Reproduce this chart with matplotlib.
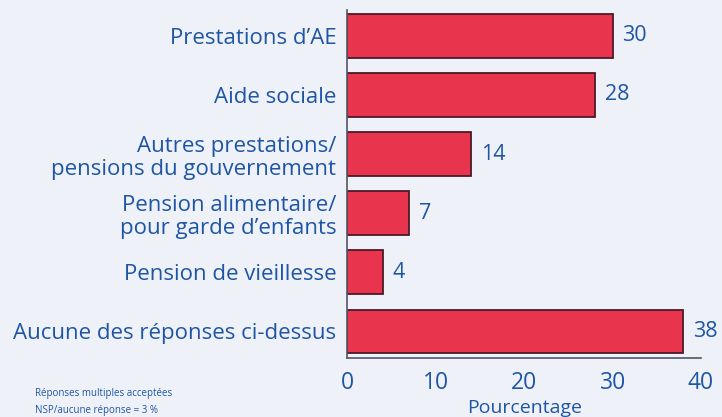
import matplotlib
matplotlib.use("Agg")
import matplotlib.pyplot as plt

# Sources de revenu (en %)
categories = [
    "Prestations d\u2019AE",
    "Aide sociale",
    "Autres prestations/\npensions du gouvernement",
    "Pension alimentaire/\npour garde d\u2019enfants",
    "Pension de vieillesse",
    "Aucune des r\u00e9ponses ci-dessus",
]
values = [30, 28, 14, 7, 4, 38]
xticks = [0, 10, 20, 30, 40]

bg = "#eef2f8"
blue = "#1f55a6"
red = "#e8344c"

plt.rcParams['font.family'] = ['Open Sans', 'DejaVu Sans']

fig = plt.figure(figsize=(7.22, 4.17), dpi=100, facecolor=bg)
ax = fig.add_axes([0.481, 0.141, 0.49, 0.835], facecolor=bg)

ypos = list(range(len(categories) - 1, -1, -1))
ax.barh(ypos, values, height=0.73, color=red, edgecolor="#4a1a2a", linewidth=1.3)

for y, v in zip(ypos, values):
    ax.text(v + 1.1, y, str(v), va="center", ha="left", color=blue, fontsize=15.5)

ax.set_yticks(ypos)
ax.set_yticklabels(categories, color=blue, fontsize=16, linespacing=1.15)
ax.set_xticks(xticks)
ax.set_xticklabels([str(t) for t in xticks], color=blue, fontsize=16.5)
ax.tick_params(length=0, pad=8)
ax.tick_params(axis="x", pad=9)
ax.set_xlim(0, 40)
ax.set_ylim(-0.46, 5.44)

for s in ["top", "right"]:
    ax.spines[s].set_visible(False)
ax.spines["left"].set_color("#555566")
ax.spines["bottom"].set_color("#555566")
ax.spines["left"].set_linewidth(1.2)
ax.spines["bottom"].set_linewidth(1.2)

ax.set_xlabel("Pourcentage", color=blue, fontsize=14, labelpad=3)

fig.text(0.048, 0.05, "R\u00e9ponses multiples accept\u00e9es", color=blue, fontsize=7)
fig.text(0.048, 0.01, "NSP/aucune r\u00e9ponse = 3 %", color=blue, fontsize=7)

fig.savefig("out.png", dpi=100, facecolor=bg)
